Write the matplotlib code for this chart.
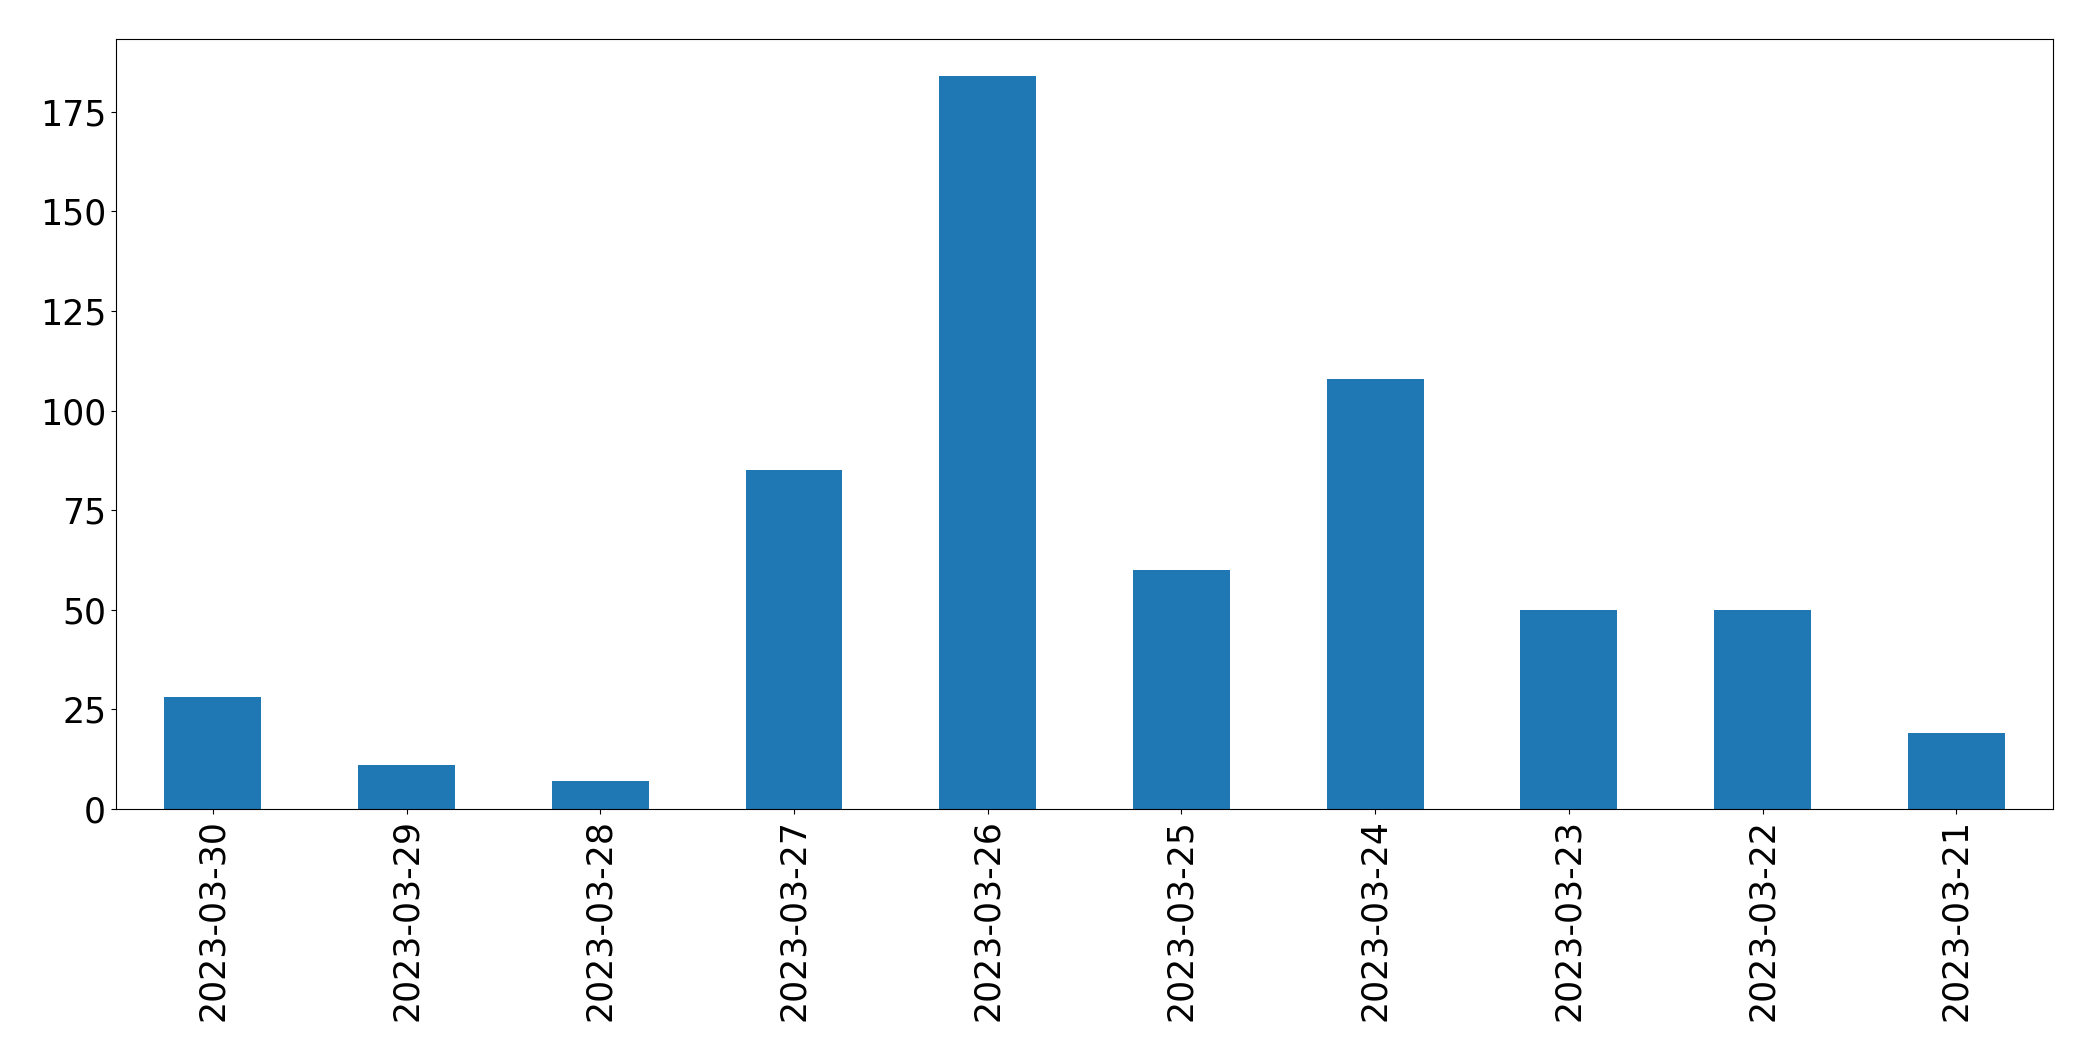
import matplotlib
matplotlib.use('Agg')
import matplotlib.pyplot as plt
import pandas as pd

# 日期与每日数量
dates = ['2023-03-30', '2023-03-29', '2023-03-28', '2023-03-27', '2023-03-26',
         '2023-03-25', '2023-03-24', '2023-03-23', '2023-03-22', '2023-03-21']
counts = [28, 11, 7, 85, 184, 60, 108, 50, 50, 19]

s = pd.Series(counts, index=dates)

fig = plt.figure(figsize=(20.93, 10.61), dpi=100)
ax = fig.add_subplot(111)

# 绘制柱状图
s.plot(kind='bar', ax=ax, color='#1f77b4', fontsize=25)

fig.subplots_adjust(left=0.0554, right=0.981, top=0.963, bottom=0.2375)
fig.savefig('out.png', dpi=100)
